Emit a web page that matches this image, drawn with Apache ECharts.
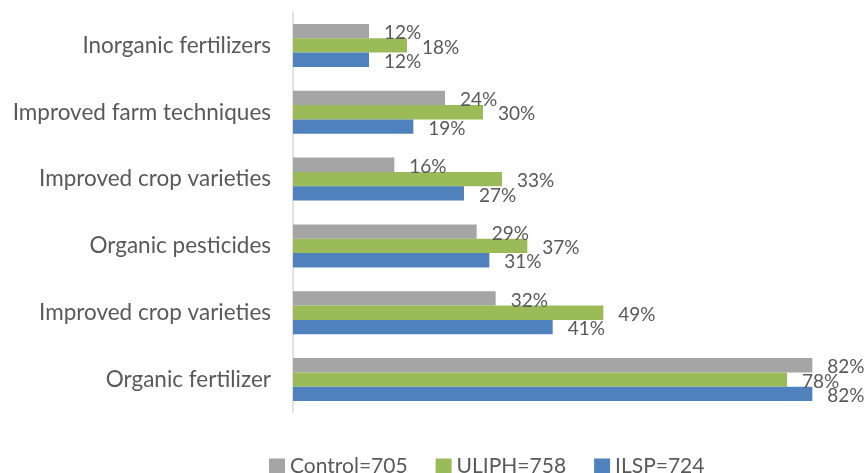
<!DOCTYPE html>
<html>
<head>
<meta charset="utf-8">
<script src="https://cdn.jsdelivr.net/npm/echarts@6/dist/echarts.min.js"></script>
<style>
  html, body { margin: 0; padding: 0; background: #fff; }
  #chart { width: 865px; height: 473px; }
</style>
</head>
<body>
<div id="chart"></div>
<script>
// bottom to top, as the category axis runs
const categories = [
  'Organic fertilizer',
  'Improved crop varieties',
  'Organic pesticides',
  'Improved crop varieties',
  'Improved farm techniques',
  'Inorganic fertilizers'
]
const seriesNames = ['Control=705', 'ULIPH=758', 'ILSP=724']
const controlValues = [82, 32, 29, 16, 24, 12]
const uliphValues = [78, 49, 37, 33, 30, 18]
const ilspValues = [82, 41, 31, 27, 19, 12]

const colors = ['#A5A5A5', '#9BBB59', '#4F81BD']
const textColor = '#595959'
const font = 'Lato, "Open Sans", sans-serif'

const chart = echarts.init(document.getElementById('chart'))

const makeSeries = (name, values, color) => ({
  name,
  type: 'bar',
  data: values,
  barGap: '0%',
  barCategoryGap: '35.6%',
  itemStyle: { color },
  label: {
    show: true,
    position: 'right',
    distance: 15,
    offset: [0, 2],
    formatter: '{c}%',
    color: textColor,
    fontFamily: font,
    fontSize: 19
  }
})

chart.setOption({
  animation: false,
  color: colors,
  grid: {
    left: 293,
    right: 2,
    top: 12,
    bottom: 60
  },
  legend: {
    top: 451,
    left: 264,
    itemWidth: 16,
    itemHeight: 16,
    itemGap: 28,
    icon: 'rect',
    textStyle: { color: textColor, fontFamily: font, fontSize: 21 },
    data: seriesNames
  },
  xAxis: {
    type: 'value',
    min: 0,
    max: 90,
    show: false
  },
  yAxis: {
    type: 'category',
    data: categories,
    axisLine: { lineStyle: { color: '#D9D9D9', width: 1.5 } },
    axisTick: { show: false },
    axisLabel: {
      color: textColor,
      fontFamily: font,
      fontSize: 22.5,
      margin: 22
    }
  },
  // first series sits on top of each group
  series: [
    makeSeries(seriesNames[0], controlValues, colors[0]),
    makeSeries(seriesNames[1], uliphValues, colors[1]),
    makeSeries(seriesNames[2], ilspValues, colors[2])
  ]
})
</script>
</body>
</html>
